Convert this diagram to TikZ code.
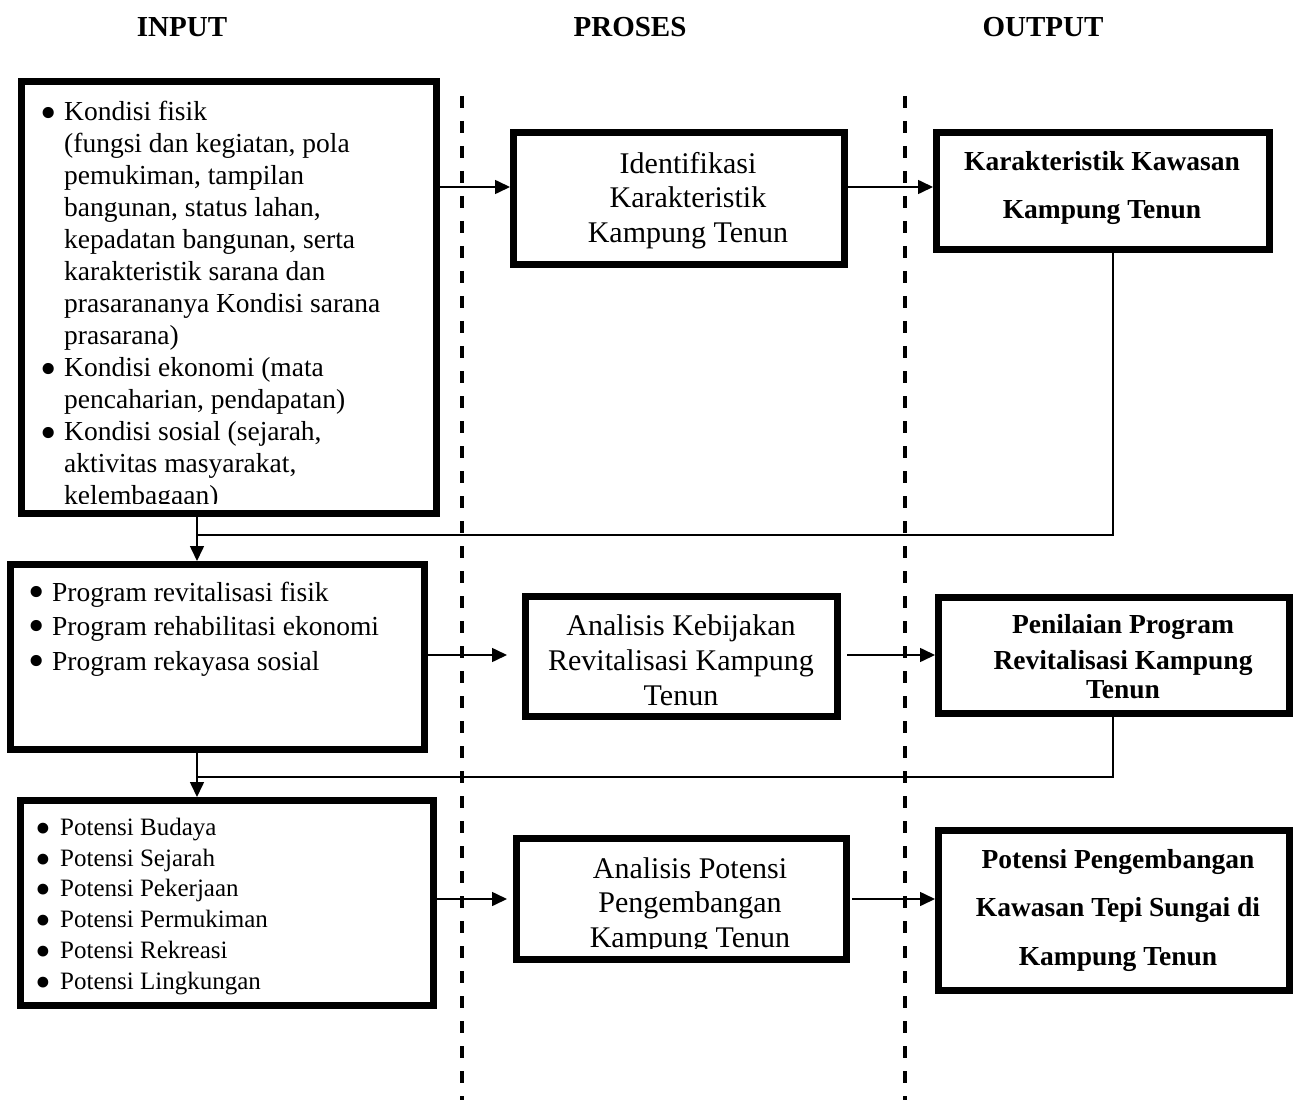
\documentclass[tikz,border=0pt]{standalone}
\usepackage{fontspec}
\setmainfont{Liberation Serif}
\usetikzlibrary{arrows.meta}
\newcommand\mybul[3]{\llap{\smash{\raisebox{#1}{\scalebox{#2}{\textbullet}}}\hspace{#3}}}
\begin{document}
\begin{tikzpicture}[x=1pt,y=-1pt,
  box/.style={draw, line width=7pt, inner sep=0pt},
  conn/.style={line width=1.6pt},
  arr/.style={conn, -{Triangle[length=15pt,width=14pt]}},
  sep/.style={line width=4pt, dash pattern=on 12pt off 13pt},
  head/.style={anchor=base, font=\fontsize{29}{34}\selectfont\bfseries},
  intext/.style={anchor=north west, inner sep=0pt, align=left, font=\fontsize{27.5}{32}\selectfont},
  proctext/.style={anchor=north, inner sep=0pt, align=center, font=\fontsize{30}{34.5}\selectfont},
  outtext/.style={anchor=north, inner sep=0pt, align=center, font=\fontsize{27.5}{48}\selectfont\bfseries}
]
\useasboundingbox (0,0) rectangle (1296,1107);

% headers
\node[head] (hin) at (182,37) {INPUT};
\node[head] (hpr) at (630,37) {PROSES};
\node[head] (hout) at (1043,37) {OUTPUT};

% separators
\coordinate (s1t) at (462,96); \coordinate (s1b) at (462,1100);
\coordinate (s2t) at (905,96); \coordinate (s2b) at (905,1100);
\draw[sep] (s1t) -- (s1b);
\draw[sep] (s2t) -- (s2b);

% boxes
\node[box, minimum width=415pt, minimum height=432pt] (b1) at (229,297.5) {};
\node[box, minimum width=414pt, minimum height=185pt] (b2) at (217.5,657) {};
\node[box, minimum width=413pt, minimum height=205pt] (b3) at (227,903) {};
\node[box, minimum width=331pt, minimum height=132pt] (p1) at (679,198.5) {};
\node[box, minimum width=312pt, minimum height=120pt] (p2) at (681.5,656.5) {};
\node[box, minimum width=330pt, minimum height=121pt] (p3) at (681.5,899) {};
\node[box, minimum width=333pt, minimum height=117pt] (o1) at (1103,191) {};
\node[box, minimum width=351pt, minimum height=116pt] (o2) at (1114,655.5) {};
\node[box, minimum width=351pt, minimum height=160pt] (o3) at (1114,910.5) {};

% input texts
\begin{scope}
\clip (0,0) rectangle (1296,503);
\node[intext] (t1) at (64,95) {\rule{0pt}{25pt}\mybul{-8.7pt}{1.7}{7.8pt}Kondisi fisik\\
(fungsi dan kegiatan, pola\\
pemukiman, tampilan\\
bangunan, status lahan,\\
kepadatan bangunan, serta\\
karakteristik sarana dan\\
prasarananya Kondisi sarana\\
prasarana)\\
\mybul{-8.7pt}{1.7}{7.8pt}Kondisi ekonomi (mata\\
pencaharian, pendapatan)\\
\mybul{-8.7pt}{1.7}{7.8pt}Kondisi sosial (sejarah,\\
aktivitas masyarakat,\\
kelembagaan)};
\end{scope}

\node[intext, font=\fontsize{27.5}{34.5}\selectfont] (t2) at (52,576) {\rule{0pt}{25pt}\mybul{-6.1pt}{1.7}{7.8pt}Program revitalisasi fisik\\
\mybul{-6.1pt}{1.7}{7.8pt}Program rehabilitasi ekonomi\\
\mybul{-6.1pt}{1.7}{7.8pt}Program rekayasa sosial};

\node[intext, font=\fontsize{25}{30.8}\selectfont] (t3) at (60,810) {\rule{0pt}{25pt}\mybul{-8.15pt}{1.8}{9pt}Potensi Budaya\\
\mybul{-8.15pt}{1.8}{9pt}Potensi Sejarah\\
\mybul{-8.15pt}{1.8}{9pt}Potensi Pekerjaan\\
\mybul{-8.15pt}{1.8}{9pt}Potensi Permukiman\\
\mybul{-8.15pt}{1.8}{9pt}Potensi Rekreasi\\
\mybul{-8.15pt}{1.8}{9pt}Potensi Lingkungan};

% process texts
\node[proctext] (tp1) at (688,148) {\rule{0pt}{25pt}Identifikasi\\ Karakteristik\\ Kampung Tenun};
\node[proctext, font=\fontsize{30}{35}\selectfont] (tp2) at (681,610) {\rule{0pt}{25pt}Analisis Kebijakan\\ Revitalisasi Kampung\\ Tenun};
\begin{scope}
\clip (0,0) rectangle (1296,948);
\node[proctext] (tp3) at (690,853) {\rule{0pt}{25pt}Analisis Potensi\\ Pengembangan\\ Kampung Tenun};
\end{scope}

% output texts
\node[outtext] (to1) at (1102,145) {\rule{0pt}{25pt}Karakteristik Kawasan\\ Kampung Tenun};
\node[outtext, font=\fontsize{27.5}{36}\selectfont\bfseries] (to2) at (1123,608) {\rule{0pt}{25pt}Penilaian Program\\ Revitalisasi Kampung\\[-7pt] Tenun};
\node[outtext, font=\fontsize{27.5}{48.5}\selectfont\bfseries] (to3) at (1118,843) {\rule{0pt}{25pt}Potensi Pengembangan\\ Kawasan Tepi Sungai di\\ Kampung Tenun};

% connectors
\coordinate (r1) at (0,187);
\coordinate (r2) at (0,655);
\coordinate (r3) at (0,899);
\draw[arr] (b1.east |- r1) -- (p1.west |- r1);
\draw[arr] (p1.east |- r1) -- (o1.west |- r1);
\draw[arr, shorten >=15pt] (b2.east |- r2) -- (p2.west |- r2);
\draw[arr, shorten <=6pt] (p2.east |- r2) -- (o2.west |- r2);
\draw[arr, shorten >=6pt] (b3.east |- r3) -- (p3.west |- r3);
\draw[arr, shorten <=2pt] (p3.east |- r3) -- (o3.west |- r3);

\coordinate (fx) at (1113,0);
\coordinate (lx) at (197,0);
\coordinate (h1) at (0,535);
\coordinate (h2) at (0,777);
\draw[conn] (o1.south -| fx) |- (lx |- h1);
\draw[arr] (b1.south -| lx) -- (b2.north -| lx);
\draw[conn] (o2.south -| fx) |- (lx |- h2);
\draw[arr] (b2.south -| lx) -- (b3.north -| lx);
\end{tikzpicture}
\end{document}
